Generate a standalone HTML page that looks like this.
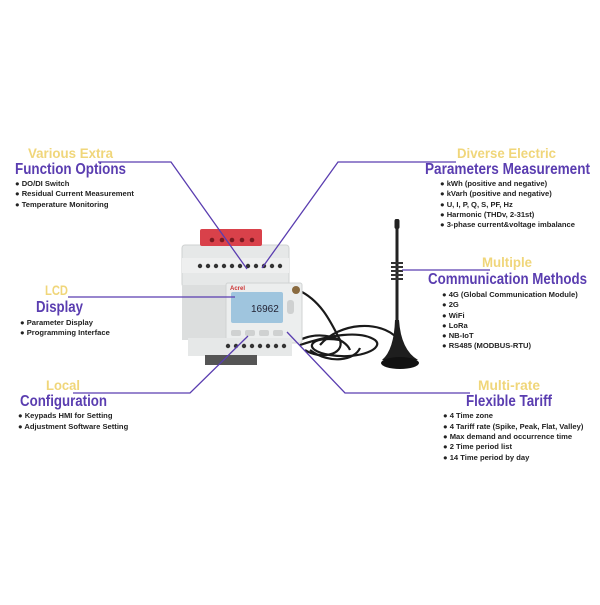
<!DOCTYPE html>
<html><head><style>
html,body{margin:0;padding:0;background:#fff;}
svg text{font-family:"Liberation Sans",sans-serif;font-weight:bold;}
.y{fill:#f0d67a;font-size:14px;}
.p{fill:#5a3db0;font-size:15.5px;}
.b{fill:#222;font-size:7.6px;}
</style></head><body>
<svg width="600" height="600" viewBox="0 0 600 600" xmlns="http://www.w3.org/2000/svg">
<rect width="600" height="600" fill="#fff"/>
<!-- cable -->
<g fill="none" stroke="#1a1a1a" stroke-width="2.2">
<path d="M298 290 C320 300 330 320 340 340 C345 355 320 360 305 350"/>
<path d="M300 345 C330 335 360 330 375 340 C385 348 360 360 330 355 C300 350 310 335 340 340"/>
<path d="M320 345 C340 322 380 320 397 338"/>
<path d="M310 350 C330 365 355 360 360 348"/>
<path d="M300 340 C320 330 345 338 350 350"/>
</g>
<!-- antenna -->
<rect x="395.5" y="219" width="3" height="105" fill="#222"/>
<rect x="394.5" y="219" width="5" height="10" rx="2" fill="#222"/>
<g stroke="#333" stroke-width="2"><line x1="391" y1="263" x2="403" y2="263"/><line x1="391" y1="267" x2="403" y2="267"/><line x1="391" y1="271" x2="403" y2="271"/><line x1="391" y1="275" x2="403" y2="275"/><line x1="391" y1="279" x2="403" y2="279"/></g>
<path d="M395 320 L399 320 Q401 350 418 360 L382 360 Q394 350 395 320Z" fill="#1e1e1e"/>
<ellipse cx="400" cy="363" rx="19" ry="6" fill="#111"/>
<!-- device -->
<rect x="182" y="245" width="107" height="42" rx="3" fill="#e6e8e8" stroke="#cfd2d2"/>
<rect x="200" y="229" width="62" height="17" rx="2" fill="#d9414a"/>
<g fill="#7a1a20"><circle cx="212" cy="240" r="2.3"/><circle cx="222" cy="240" r="2.3"/><circle cx="232" cy="240" r="2.3"/><circle cx="242" cy="240" r="2.3"/><circle cx="252" cy="240" r="2.3"/></g>
<rect x="182" y="258" width="107" height="15" fill="#eeefef"/>
<g fill="#333"><circle cx="200" cy="266" r="2.2"/><circle cx="208" cy="266" r="2.2"/><circle cx="216" cy="266" r="2.2"/><circle cx="224" cy="266" r="2.2"/><circle cx="232" cy="266" r="2.2"/><circle cx="240" cy="266" r="2.2"/><circle cx="248" cy="266" r="2.2"/><circle cx="256" cy="266" r="2.2"/><circle cx="264" cy="266" r="2.2"/><circle cx="272" cy="266" r="2.2"/><circle cx="280" cy="266" r="2.2"/></g>
<rect x="182" y="285" width="45" height="55" fill="#dcdede"/>
<rect x="226" y="283" width="76" height="60" rx="2" fill="#eceeee" stroke="#d0d3d3"/>
<rect x="231" y="292" width="52" height="31" rx="2" fill="#9fc5de"/>
<text x="251" y="312" font-size="10" fill="#223" style="font-weight:normal">16962</text>
<text x="230" y="290" font-size="6" fill="#c33">Acrel</text>
<rect x="287" y="300" width="7" height="14" rx="3" fill="#cfd1d1"/>
<circle cx="296" cy="290" r="4" fill="#8a6b40"/>
<g fill="#cfd1d1"><rect x="231" y="330" width="10" height="6" rx="2"/><rect x="245" y="330" width="10" height="6" rx="2"/><rect x="259" y="330" width="10" height="6" rx="2"/><rect x="273" y="330" width="10" height="6" rx="2"/></g>
<rect x="188" y="338" width="104" height="18" fill="#e6e8e8"/>
<g fill="#333"><circle cx="228" cy="346" r="2.2"/><circle cx="236" cy="346" r="2.2"/><circle cx="244" cy="346" r="2.2"/><circle cx="252" cy="346" r="2.2"/><circle cx="260" cy="346" r="2.2"/><circle cx="268" cy="346" r="2.2"/><circle cx="276" cy="346" r="2.2"/><circle cx="284" cy="346" r="2.2"/></g>
<rect x="205" y="355" width="52" height="10" fill="#555"/>
<!-- connectors -->
<g fill="none" stroke="#5a3db0" stroke-width="1.3">
<polyline points="98,162 171,162 247,269"/>
<polyline points="456,162 338,162 262,268"/>
<line x1="68" y1="297" x2="235" y2="297"/>
<polyline points="73,393 190,393 248,336"/>
<polyline points="287,332 345,393 470,393"/>
<line x1="402" y1="270" x2="490" y2="270"/>
</g>
<!-- left texts -->
<text class="y" x="28" y="158" textLength="85" lengthAdjust="spacingAndGlyphs">Various Extra</text>
<text class="p" x="15" y="174" textLength="111" lengthAdjust="spacingAndGlyphs">Function Options</text>
<text class="b" x="15" y="186">● DO/DI Switch</text>
<text class="b" x="15" y="196">● Residual Current Measurement</text>
<text class="b" x="15" y="207">● Temperature Monitoring</text>
<text class="y" x="45" y="295" textLength="23" lengthAdjust="spacingAndGlyphs">LCD</text>
<text class="p" x="36" y="312" textLength="47" lengthAdjust="spacingAndGlyphs">Display</text>
<text class="b" x="20" y="325">● Parameter Display</text>
<text class="b" x="20" y="335">● Programming Interface</text>
<text class="y" x="46" y="390" textLength="34" lengthAdjust="spacingAndGlyphs">Local</text>
<text class="p" x="20" y="406" textLength="87" lengthAdjust="spacingAndGlyphs">Configuration</text>
<text class="b" x="18" y="418">● Keypads HMI for Setting</text>
<text class="b" x="18" y="429">● Adjustment Software Setting</text>
<!-- right texts -->
<text class="y" x="457" y="158" textLength="99" lengthAdjust="spacingAndGlyphs">Diverse Electric</text>
<text class="p" x="425" y="174" textLength="165" lengthAdjust="spacingAndGlyphs">Parameters Measurement</text>
<text class="b" x="440" y="186">● kWh  (positive and negative)</text>
<text class="b" x="440" y="196">● kVarh (positive and negative)</text>
<text class="b" x="440" y="207">● U, I, P, Q, S, PF, Hz</text>
<text class="b" x="440" y="217">● Harmonic (THDv, 2-31st)</text>
<text class="b" x="440" y="227">● 3-phase current&amp;voltage imbalance</text>
<text class="y" x="482" y="267" textLength="50" lengthAdjust="spacingAndGlyphs">Multiple</text>
<text class="p" x="428" y="284" textLength="159" lengthAdjust="spacingAndGlyphs">Communication Methods</text>
<text class="b" x="442" y="297">● 4G (Global Communication Module)</text>
<text class="b" x="442" y="307">● 2G</text>
<text class="b" x="442" y="318">● WiFi</text>
<text class="b" x="442" y="328">● LoRa</text>
<text class="b" x="442" y="338">● NB-IoT</text>
<text class="b" x="442" y="348">● RS485 (MODBUS-RTU)</text>
<text class="y" x="478" y="390" textLength="62" lengthAdjust="spacingAndGlyphs">Multi-rate</text>
<text class="p" x="466" y="406" textLength="86" lengthAdjust="spacingAndGlyphs">Flexible Tariff</text>
<text class="b" x="443" y="418">● 4 Time zone</text>
<text class="b" x="443" y="429">● 4 Tariff rate (Spike, Peak, Flat, Valley)</text>
<text class="b" x="443" y="439">● Max demand and occurrence time</text>
<text class="b" x="443" y="449">● 2 Time period list</text>
<text class="b" x="443" y="460">● 14 Time period by day</text>
</svg>
</body></html>
